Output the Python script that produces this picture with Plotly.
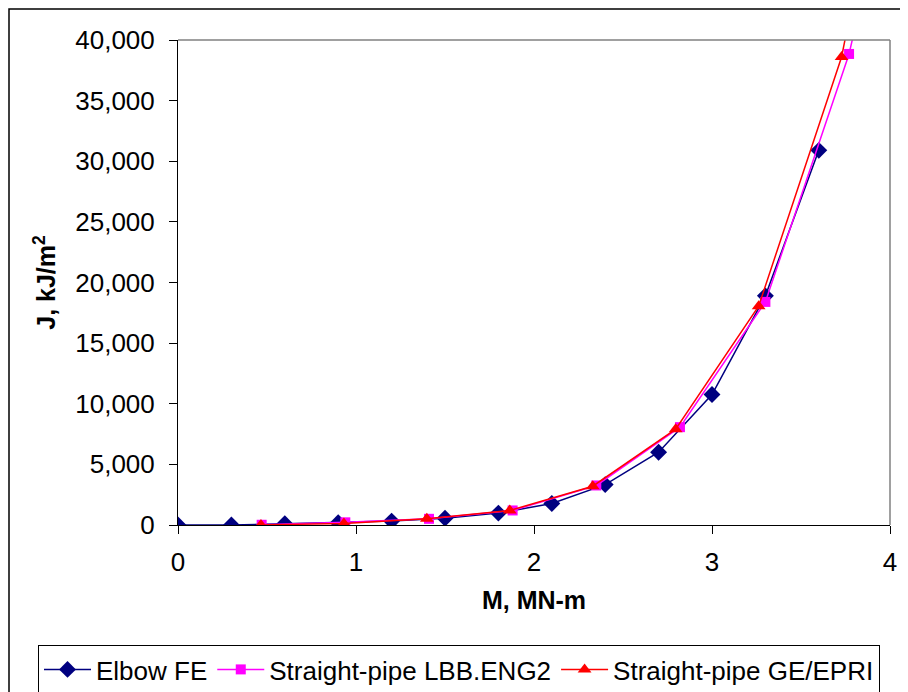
import plotly.graph_objects as go

# Data
elbow_x = [0, 0.3, 0.6, 0.9, 1.2, 1.5, 1.8, 2.1, 2.4, 2.7, 3.0, 3.3, 3.6]
elbow_j = [0, 10, 100, 180, 320, 560, 980, 1770, 3330, 6000, 10760, 18900, 30900]

lbb_x = [0.47, 0.94, 1.41, 1.88, 2.35, 2.82, 3.30, 3.77, 4.24]
lbb_j = [20, 220, 510, 1200, 3260, 8070, 18400, 38850, 69000]

ge_x = [0.466, 0.932, 1.398, 1.864, 2.33, 2.796, 3.262, 3.728, 4.194]
ge_j = [10, 130, 510, 1200, 3200, 7900, 18050, 38600, 73000]

x_ticks = [0, 1, 2, 3, 4]
y_ticks = [0, 5000, 10000, 15000, 20000, 25000, 30000, 35000, 40000]

FONT = "Arial, Liberation Sans, sans-serif"
# page body adds an 8px offset, so the figure is sized/placed to compensate
W, H = 900, 684
L, T = 170, 32
PW, PH = 712, 485
R, B = W - L - PW, H - T - PH

fig = go.Figure()
fig.add_trace(go.Scatter(
    x=elbow_x, y=elbow_j, name="Elbow FE", mode="lines+markers",
    line=dict(color="#000080", width=1.5),
    marker=dict(symbol="diamond", size=13, color="#000080"),
))
fig.add_trace(go.Scatter(
    x=lbb_x, y=lbb_j, name="Straight-pipe LBB.ENG2", mode="lines+markers",
    line=dict(color="#FF00FF", width=1.5),
    marker=dict(symbol="square", size=10, color="#FF00FF"),
))
fig.add_trace(go.Scatter(
    x=ge_x, y=ge_j, name="Straight-pipe GE/EPRI", mode="lines+markers",
    line=dict(color="#FF0000", width=1.5),
    marker=dict(symbol="triangle-up", size=12, color="#FF0000"),
))

fig.update_layout(
    width=W, height=H,
    margin=dict(l=L, r=R, t=T, b=B, autoexpand=False),
    paper_bgcolor="white", plot_bgcolor="white",
    font=dict(family=FONT, size=26, color="black"),
    showlegend=True,
    legend=dict(
        orientation="h",
        x=(30 - L) / PW, y=-(637 - (T + PH)) / PH, xanchor="left", yanchor="top",
        bordercolor="black", borderwidth=1,
        font=dict(family=FONT, size=26, color="black"),
        itemwidth=47, tracegroupgap=0,
    ),
    xaxis=dict(
        range=[0, 4], tickvals=x_ticks, ticktext=[str(v) for v in x_ticks],
        showgrid=False, zeroline=False, automargin=False,
        showline=True, linecolor="black", linewidth=1,
        ticks="outside", ticklen=8, tickcolor="black",
        ticklabelstandoff=6,
        tickfont=dict(size=26),
        title=dict(text="<b>M, MN-m</b>", font=dict(size=25), standoff=15),
    ),
    yaxis=dict(
        range=[0, 40000], tickvals=y_ticks, ticktext=[f"{v:,}" for v in y_ticks],
        showgrid=False, zeroline=False, automargin=False,
        showline=True, linecolor="black", linewidth=1,
        ticks="outside", ticklen=8, tickcolor="black",
        ticklabelstandoff=9,
        tickfont=dict(size=26),
        title=dict(text="<b>J, kJ/m<sup>2</sup></b>", font=dict(size=25), standoff=12),
    ),
    shapes=[
        dict(type="line", xref="paper", yref="paper", x0=0, x1=1, y0=1, y1=1,
             line=dict(color="#808080", width=1.5)),
        dict(type="line", xref="paper", yref="paper", x0=1, x1=1, y0=0, y1=1,
             line=dict(color="#808080", width=1.5)),
        dict(type="rect", xref="paper", yref="paper",
             x0=(1 - L) / PW, x1=2, y0=-2, y1=(T + PH - 1) / PH,
             line=dict(color="black", width=1.5), layer="below"),
    ],
)

fig.write_html("out.html")
